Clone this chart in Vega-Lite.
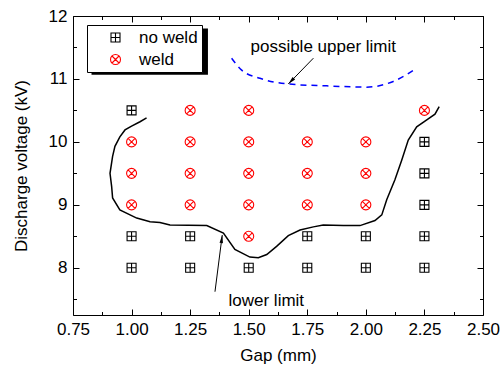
{
  "$schema": "https://vega.github.io/schema/vega-lite/v6.json",
  "width": 410,
  "height": 299,
  "autosize": {"type": "none"},
  "padding": {"left": 73, "top": 16, "right": 18, "bottom": 57},
  "config": {
    "view": {"stroke": "#000", "strokeWidth": 1},
    "font": "Liberation Sans",
    "axis": {
      "grid": false,
      "domain": false,
      "labelFontSize": 17,
      "titleFontSize": 17,
      "titleFontWeight": "normal",
      "labelColor": "#000",
      "titleColor": "#000",
      "tickColor": "#000",
      "labelFlush": false,
      "labelOverlap": false
    }
  },
  "datasets": {
    "points": [
      {"gap": 1.0, "voltage": 10.5, "type": "no weld"},
      {"gap": 1.0, "voltage": 8.5, "type": "no weld"},
      {"gap": 1.0, "voltage": 8.0, "type": "no weld"},
      {"gap": 1.25, "voltage": 8.5, "type": "no weld"},
      {"gap": 1.25, "voltage": 8.0, "type": "no weld"},
      {"gap": 1.5, "voltage": 8.0, "type": "no weld"},
      {"gap": 1.75, "voltage": 8.5, "type": "no weld"},
      {"gap": 1.75, "voltage": 8.0, "type": "no weld"},
      {"gap": 2.0, "voltage": 8.5, "type": "no weld"},
      {"gap": 2.0, "voltage": 8.0, "type": "no weld"},
      {"gap": 2.25, "voltage": 10.0, "type": "no weld"},
      {"gap": 2.25, "voltage": 9.5, "type": "no weld"},
      {"gap": 2.25, "voltage": 9.0, "type": "no weld"},
      {"gap": 2.25, "voltage": 8.5, "type": "no weld"},
      {"gap": 2.25, "voltage": 8.0, "type": "no weld"},
      {"gap": 1.0, "voltage": 10.0, "type": "weld"},
      {"gap": 1.0, "voltage": 9.5, "type": "weld"},
      {"gap": 1.0, "voltage": 9.0, "type": "weld"},
      {"gap": 1.25, "voltage": 10.5, "type": "weld"},
      {"gap": 1.25, "voltage": 10.0, "type": "weld"},
      {"gap": 1.25, "voltage": 9.5, "type": "weld"},
      {"gap": 1.25, "voltage": 9.0, "type": "weld"},
      {"gap": 1.5, "voltage": 10.5, "type": "weld"},
      {"gap": 1.5, "voltage": 10.0, "type": "weld"},
      {"gap": 1.5, "voltage": 9.5, "type": "weld"},
      {"gap": 1.5, "voltage": 9.0, "type": "weld"},
      {"gap": 1.5, "voltage": 8.5, "type": "weld"},
      {"gap": 1.75, "voltage": 10.0, "type": "weld"},
      {"gap": 1.75, "voltage": 9.5, "type": "weld"},
      {"gap": 1.75, "voltage": 9.0, "type": "weld"},
      {"gap": 2.0, "voltage": 10.0, "type": "weld"},
      {"gap": 2.0, "voltage": 9.5, "type": "weld"},
      {"gap": 2.0, "voltage": 9.0, "type": "weld"},
      {"gap": 2.25, "voltage": 10.5, "type": "weld"}
    ],
    "lower": [
      {"i": 1, "gap": 1.064, "voltage": 10.38},
      {"i": 2, "gap": 1.036, "voltage": 10.32},
      {"i": 3, "gap": 1.0, "voltage": 10.25},
      {"i": 4, "gap": 0.972, "voltage": 10.19},
      {"i": 5, "gap": 0.95, "voltage": 10.08},
      {"i": 6, "gap": 0.929, "voltage": 9.93},
      {"i": 7, "gap": 0.919, "voltage": 9.77},
      {"i": 8, "gap": 0.908, "voltage": 9.5},
      {"i": 9, "gap": 0.915, "voltage": 9.29},
      {"i": 10, "gap": 0.919, "voltage": 9.11},
      {"i": 11, "gap": 0.95, "voltage": 8.92},
      {"i": 12, "gap": 1.022, "voltage": 8.79},
      {"i": 13, "gap": 1.079, "voltage": 8.73},
      {"i": 14, "gap": 1.121, "voltage": 8.72},
      {"i": 15, "gap": 1.164, "voltage": 8.68},
      {"i": 16, "gap": 1.321, "voltage": 8.67},
      {"i": 17, "gap": 1.392, "voltage": 8.55},
      {"i": 18, "gap": 1.441, "voltage": 8.29},
      {"i": 19, "gap": 1.505, "voltage": 8.17},
      {"i": 20, "gap": 1.541, "voltage": 8.16},
      {"i": 21, "gap": 1.577, "voltage": 8.21},
      {"i": 22, "gap": 1.619, "voltage": 8.34},
      {"i": 23, "gap": 1.669, "voltage": 8.51},
      {"i": 24, "gap": 1.719, "voltage": 8.6},
      {"i": 25, "gap": 1.776, "voltage": 8.65},
      {"i": 26, "gap": 1.818, "voltage": 8.68},
      {"i": 27, "gap": 1.904, "voltage": 8.67},
      {"i": 28, "gap": 1.975, "voltage": 8.67},
      {"i": 29, "gap": 2.039, "voltage": 8.75},
      {"i": 30, "gap": 2.068, "voltage": 8.84},
      {"i": 31, "gap": 2.089, "voltage": 9.08},
      {"i": 32, "gap": 2.124, "voltage": 9.4},
      {"i": 33, "gap": 2.153, "voltage": 9.71},
      {"i": 34, "gap": 2.181, "voltage": 10.03},
      {"i": 35, "gap": 2.217, "voltage": 10.24},
      {"i": 36, "gap": 2.26, "voltage": 10.35},
      {"i": 37, "gap": 2.295, "voltage": 10.44},
      {"i": 38, "gap": 2.313, "voltage": 10.56}
    ],
    "upper": [
      {"gap": 1.427, "voltage": 11.33},
      {"gap": 1.47, "voltage": 11.14},
      {"gap": 1.548, "voltage": 11.01},
      {"gap": 1.669, "voltage": 10.92},
      {"gap": 1.833, "voltage": 10.89},
      {"gap": 2.003, "voltage": 10.87},
      {"gap": 2.117, "voltage": 10.96},
      {"gap": 2.217, "voltage": 11.17}
    ],
    "arrows": [
      {"arrow": "upper", "i": 1, "gap": 1.776, "voltage": 11.33},
      {"arrow": "upper", "i": 2, "gap": 1.669, "voltage": 10.92},
      {"arrow": "lower", "i": 1, "gap": 1.356, "voltage": 7.62},
      {"arrow": "lower", "i": 2, "gap": 1.387, "voltage": 8.52}
    ],
    "labels": [
      {"label": "possible upper limit", "gap": 1.818, "voltage": 11.5},
      {"label": "lower limit", "gap": 1.575, "voltage": 7.48}
    ],
    "shadow": [
      {"gap": 0.829, "gap2": 1.326, "voltage": 11.8, "voltage2": 11.065}
    ]
  },
  "layer": [
    {
      "data": {"name": "shadow"},
      "mark": {"type": "rect", "fill": "#000"},
      "encoding": {
        "x": {"field": "gap", "type": "quantitative", "scale": {"domain": [0.75, 2.5], "nice": false, "zero": false}, "axis": null},
        "x2": {"field": "gap2"},
        "y": {"field": "voltage", "type": "quantitative", "scale": {"domain": [7.25, 12], "nice": false, "zero": false}, "axis": null},
        "y2": {"field": "voltage2"}
      }
    },
    {
      "data": {"name": "lower"},
      "mark": {"type": "line", "color": "#000", "strokeWidth": 1.5},
      "encoding": {
        "x": {"field": "gap", "type": "quantitative", "scale": {"domain": [0.75, 2.5], "nice": false, "zero": false}, "axis": null},
        "y": {"field": "voltage", "type": "quantitative", "scale": {"domain": [7.25, 12], "nice": false, "zero": false}, "axis": null},
        "order": {"field": "i", "type": "quantitative"}
      }
    },
    {
      "data": {"name": "upper"},
      "mark": {"type": "line", "color": "#0000ff", "strokeWidth": 1.5, "strokeDash": [6, 5], "interpolate": "monotone"},
      "encoding": {
        "x": {
          "field": "gap", "type": "quantitative",
          "scale": {"domain": [0.75, 2.5], "nice": false, "zero": false},
          "axis": {"orient": "top", "labels": false, "title": null,
            "values": [0.75, 0.875, 1.0, 1.125, 1.25, 1.375, 1.5, 1.625, 1.75, 1.875, 2.0, 2.125, 2.25, 2.375, 2.5],
            "tickSize": {"condition": {"test": "abs(datum.value*4-round(datum.value*4))<0.001", "value": -6}, "value": -3.5}}
        },
        "y": {
          "field": "voltage", "type": "quantitative",
          "scale": {"domain": [7.25, 12], "nice": false, "zero": false},
          "axis": {"orient": "right", "labels": false, "title": null,
            "values": [7.5, 8, 8.5, 9, 9.5, 10, 10.5, 11, 11.5, 12],
            "tickSize": {"condition": {"test": "abs(datum.value-round(datum.value))<0.001", "value": -6}, "value": -3.5}}
        }
      }
    },
    {
      "data": {"name": "arrows"},
      "mark": {"type": "line", "color": "#000", "strokeWidth": 1},
      "encoding": {
        "x": {"field": "gap", "type": "quantitative", "scale": {"domain": [0.75, 2.5], "nice": false, "zero": false}, "axis": null},
        "y": {"field": "voltage", "type": "quantitative", "scale": {"domain": [7.25, 12], "nice": false, "zero": false}, "axis": null},
        "detail": {"field": "arrow"},
        "order": {"field": "i", "type": "quantitative"}
      }
    },
    {
      "data": {"name": "arrows"},
      "transform": [{"filter": "datum.arrow == 'upper' && datum.i == 2"}],
      "mark": {"type": "point", "shape": "M0,0L-0.35,1.6L0.35,1.6Z", "filled": true, "color": "#000", "size": 100, "angle": 224, "opacity": 1},
      "encoding": {
        "x": {"field": "gap", "type": "quantitative", "scale": {"domain": [0.75, 2.5], "nice": false, "zero": false}, "axis": null},
        "y": {"field": "voltage", "type": "quantitative", "scale": {"domain": [7.25, 12], "nice": false, "zero": false}, "axis": null}
      }
    },
    {
      "data": {"name": "arrows"},
      "transform": [{"filter": "datum.arrow == 'lower' && datum.i == 2"}],
      "mark": {"type": "point", "shape": "M0,0L-0.35,1.6L0.35,1.6Z", "filled": true, "color": "#000", "size": 100, "angle": 7, "opacity": 1},
      "encoding": {
        "x": {"field": "gap", "type": "quantitative", "scale": {"domain": [0.75, 2.5], "nice": false, "zero": false}, "axis": null},
        "y": {"field": "voltage", "type": "quantitative", "scale": {"domain": [7.25, 12], "nice": false, "zero": false}, "axis": null}
      }
    },
    {
      "data": {"name": "labels"},
      "mark": {"type": "text", "fontSize": 17, "font": "Liberation Sans", "color": "#000", "align": "center", "baseline": "middle"},
      "encoding": {
        "x": {"field": "gap", "type": "quantitative", "scale": {"domain": [0.75, 2.5], "nice": false, "zero": false}, "axis": null},
        "y": {"field": "voltage", "type": "quantitative", "scale": {"domain": [7.25, 12], "nice": false, "zero": false}, "axis": null},
        "text": {"field": "label"}
      }
    },
    {
      "data": {"name": "points"},
      "mark": {"type": "point", "filled": false, "strokeWidth": 1.1, "opacity": 1},
      "encoding": {
        "x": {
          "field": "gap", "type": "quantitative",
          "scale": {"domain": [0.75, 2.5], "nice": false, "zero": false},
          "axis": {"orient": "bottom", "title": "Gap (mm)", "titlePadding": 8, "labelPadding": 12,
            "values": [0.75, 0.875, 1.0, 1.125, 1.25, 1.375, 1.5, 1.625, 1.75, 1.875, 2.0, 2.125, 2.25, 2.375, 2.5],
            "labelExpr": "abs(datum.value*4-round(datum.value*4))<0.001 ? format(datum.value, '.2f') : ''",
            "tickSize": {"condition": {"test": "abs(datum.value*4-round(datum.value*4))<0.001", "value": -6}, "value": -3.5}}
        },
        "y": {
          "field": "voltage", "type": "quantitative",
          "scale": {"domain": [7.25, 12], "nice": false, "zero": false},
          "axis": {"orient": "left", "title": "Discharge voltage (kV)", "titlePadding": 18, "labelPadding": 12,
            "values": [7.5, 8, 8.5, 9, 9.5, 10, 10.5, 11, 11.5, 12],
            "labelExpr": "abs(datum.value-round(datum.value))<0.001 ? format(datum.value, 'd') : ''",
            "tickSize": {"condition": {"test": "abs(datum.value-round(datum.value))<0.001", "value": -6}, "value": -3.5}}
        },
        "shape": {
          "field": "type", "type": "nominal",
          "scale": {"domain": ["no weld", "weld"], "range": ["M-1,-1H1V1H-1Z M0,-1V1 M-1,0H1", "M1,0A1,1 0 1,1 -1,0A1,1 0 1,1 1,0Z M-0.7,-0.7L0.7,0.7 M-0.7,0.7L0.7,-0.7"]},
          "legend": {
            "orient": "none", "legendX": 14, "legendY": 9, "title": null,
            "strokeColor": "#000", "fillColor": "#fff", "padding": 4,
            "symbolOffset": 16, "labelOffset": 15, "labelFontSize": 17, "labelFont": "Liberation Sans",
            "labelColor": "#000", "rowPadding": 4, "symbolStrokeWidth": 1.1
          }
        },
        "color": {
          "field": "type", "type": "nominal",
          "scale": {"domain": ["no weld", "weld"], "range": ["#000000", "#ff0000"]}
        },
        "size": {
          "field": "type", "type": "nominal",
          "scale": {"domain": ["no weld", "weld"], "range": [81, 100]}
        }
      }
    }
  ],
  "resolve": {"axis": {"x": "independent", "y": "independent"}}
}
